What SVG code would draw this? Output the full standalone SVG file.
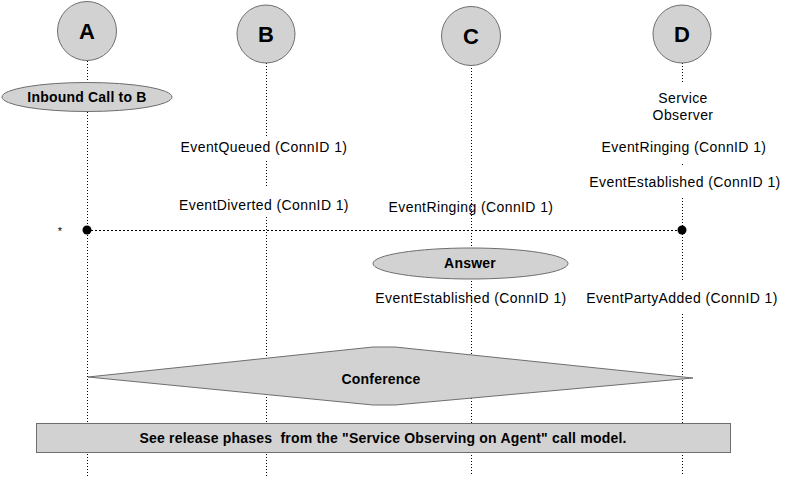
<svg xmlns="http://www.w3.org/2000/svg" width="800" height="483" viewBox="0 0 800 483">
<style>
.shape{fill:#d2d2d2;stroke:#6e6e6e;stroke-width:1}
.life{stroke:#000;stroke-width:1;stroke-dasharray:1,2;fill:none}
.lbl{font-family:"Liberation Sans",Arial,sans-serif;font-size:14px;letter-spacing:0.4px;fill:#000;text-anchor:middle}
.b{font-weight:bold;letter-spacing:0.2px}
.big{font-family:"Liberation Sans",Arial,sans-serif;font-size:22px;font-weight:bold;text-anchor:middle}
</style>
<rect width="800" height="483" fill="#fff"/>
<g id="connectors">
<path class="life" d="M87.5 61V83M87.5 112V476"/>
<path class="life" d="M266.5 63V138M266.5 161V188M266.5 217V476"/>
<path class="life" d="M471.5 65V476"/>
<path class="life" d="M682.5 63V83M682.5 164V166M682.5 198V282M682.5 314V476"/>
<line x1="87" y1="230.5" x2="682" y2="230.5" stroke="#000" stroke-dasharray="2,2"/>
<circle cx="87" cy="230" r="4.5"/>
<circle cx="682" cy="230" r="4.5"/>
<text x="60" y="235" font-family="Liberation Sans, Arial, sans-serif" font-size="11" fill="#000" text-anchor="middle">*</text>
</g>
<g id="nodeA"><circle class="shape" cx="87" cy="31" r="29.5"/><text class="big" x="87" y="39">A</text></g>
<g id="nodeB"><circle class="shape" cx="266" cy="34" r="29"/><text class="big" x="266" y="42">B</text></g>
<g id="nodeC"><circle class="shape" cx="471" cy="36" r="29.5"/><text class="big" x="471" y="44">C</text></g>
<g id="nodeD"><circle class="shape" cx="682" cy="34" r="29"/><text class="big" x="682" y="42">D</text></g>
<g id="inbound"><ellipse class="shape" cx="87" cy="97" rx="85" ry="14.5"/><text class="lbl b" x="87" y="102">Inbound Call to B</text></g>
<g id="observer"><text class="lbl" x="683" y="103">Service</text><text class="lbl" x="683" y="120">Observer</text></g>
<g id="evQueued"><text class="lbl" x="264" y="152">EventQueued (ConnID 1)</text></g>
<g id="evDiverted"><text class="lbl" x="264" y="210">EventDiverted (ConnID 1)</text></g>
<g id="evRingingC"><text class="lbl" x="471" y="212">EventRinging (ConnID 1)</text></g>
<g id="evRingingD"><text class="lbl" x="684" y="152">EventRinging (ConnID 1)</text></g>
<g id="evEstD"><text class="lbl" x="685" y="187">EventEstablished (ConnID 1)</text></g>
<g id="answer"><ellipse class="shape" cx="470.5" cy="263.5" rx="97.5" ry="15.5"/><text class="lbl b" x="470" y="268">Answer</text></g>
<g id="evEstC"><text class="lbl" x="471" y="303">EventEstablished (ConnID 1)</text></g>
<g id="evParty"><text class="lbl" x="682" y="303">EventPartyAdded (ConnID 1)</text></g>
<g id="conference"><polygon class="shape" points="88,377 373,347 395,347 693,378 395,405 373,405"/><text class="lbl b" x="381" y="384">Conference</text></g>
<g id="release"><rect class="shape" x="36.5" y="423.5" width="694" height="29"/><text class="lbl b" x="383" y="443" xml:space="preserve">See release phases  from the "Service Observing on Agent" call model.</text></g>
</svg>
